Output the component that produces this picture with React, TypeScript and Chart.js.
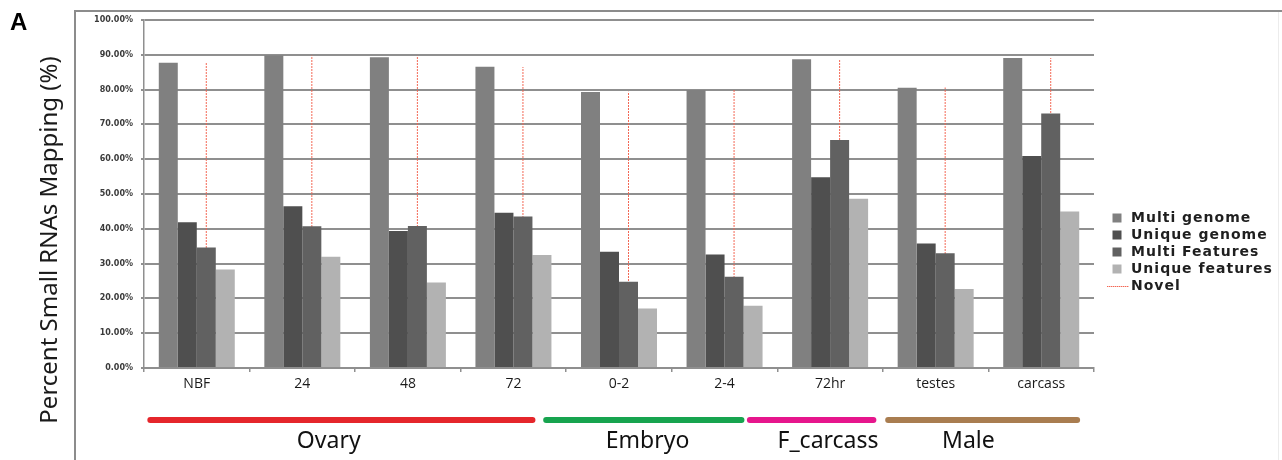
import React, { useEffect, useRef } from 'react';
import { Chart, registerables } from 'chart.js';

Chart.register(...registerables);

const categories = ['NBF', '24', '48', '72', '0-2', '2-4', '72hr', 'testes', 'carcass'];
const multiGenome = [87.7, 89.9, 89.3, 86.6, 79.3, 79.9, 88.7, 80.5, 89.1];
const uniqueGenome = [41.9, 46.5, 39.4, 44.6, 33.4, 32.6, 54.8, 35.8, 60.9];
const multiFeatures = [34.6, 40.7, 40.8, 43.5, 24.8, 26.2, 65.5, 33.0, 73.1];
const uniqueFeatures = [28.3, 32.0, 24.6, 32.5, 17.1, 17.9, 48.6, 22.7, 45.0];
const novel = [87.8, 89.8, 89.7, 86.5, 79.4, 80.1, 88.5, 80.6, 89.1];
const seriesNames = ['Multi genome', 'Unique genome', 'Multi Features', 'Unique features', 'Novel'];
const yTicks = [0, 10, 20, 30, 40, 50, 60, 70, 80, 90, 100];

// sample groups (spans given in category-index units)
const groupNames = ['Ovary', 'Embryo', 'F_carcass', 'Male'];
const groupStart = [-0.44, 3.31, 5.24, 6.55];
const groupEnd = [3.18, 5.16, 6.41, 8.34];
const groupLabelAt = [1.25, 4.27, 5.98, 7.31];
const groupColors = ['#e5262b', '#17a44f', '#e6168c', '#a97d50'];

const yTitle = 'Percent Small RNAs Mapping (%)';
const panelLetter = 'A';

const barColors = ['#808080', '#4f4f4f', '#616161', '#b2b2b2'];
const novelColor = 'rgba(242, 96, 76, 0.95)';
const LEGEND_WIDTH = 175;

const decorPlugin = {
  id: 'decor',
  beforeLayout(chart: any) {
    const lg = chart.legend;
    if (lg && !lg.__patched) {
      const origDraw = lg.draw.bind(lg);
      const origFit = lg.fit.bind(lg);
      lg.draw = (...args: any[]) => {
        const c = chart.ctx as any;
        c.letterSpacing = '1px';
        origDraw(...args);
        c.letterSpacing = '0px';
      };
      lg.fit = (...args: any[]) => {
        origFit(...args);
        lg.width = LEGEND_WIDTH;
      };
      lg.__patched = true;
    }
  },
  afterDraw(chart: any) {
    const ctx = chart.ctx as CanvasRenderingContext2D;
    const xs = chart.scales.x;
    ctx.save();
    // outer frame
    ctx.strokeStyle = '#8c8c8c';
    ctx.lineWidth = 2;
    ctx.beginPath();
    ctx.moveTo(75, 460);
    ctx.lineTo(75, 11);
    ctx.lineTo(1282, 11);
    ctx.stroke();
    ctx.strokeStyle = '#ececec';
    ctx.lineWidth = 1;
    ctx.beginPath();
    ctx.moveTo(1278.5, 12);
    ctx.lineTo(1278.5, 460);
    ctx.stroke();
    // panel letter
    ctx.fillStyle = '#000';
    ctx.font = 'bold 24px "Liberation Sans", Arial, sans-serif';
    ctx.textAlign = 'left';
    ctx.textBaseline = 'alphabetic';
    ctx.fillText(panelLetter, 10, 30);
    // y title
    ctx.save();
    ctx.translate(50, 240);
    ctx.rotate(-Math.PI / 2);
    ctx.textAlign = 'center';
    ctx.textBaseline = 'middle';
    ctx.fillStyle = '#1a1a1a';
    ctx.font = '24px "Noto Sans", sans-serif';
    ctx.fillText(yTitle, 0, 0);
    ctx.restore();
    // groups
    ctx.lineCap = 'round';
    ctx.lineWidth = 6;
    groupNames.forEach((name, i) => {
      const x0 = xs.getPixelForValue(groupStart[i]);
      const x1 = xs.getPixelForValue(groupEnd[i]);
      ctx.strokeStyle = groupColors[i];
      ctx.beginPath();
      ctx.moveTo(x0, 420);
      ctx.lineTo(x1, 420);
      ctx.stroke();
      ctx.fillStyle = '#111';
      ctx.font = '23px "Noto Sans", sans-serif';
      ctx.textAlign = 'center';
      ctx.textBaseline = 'alphabetic';
      ctx.fillText(name, xs.getPixelForValue(groupLabelAt[i]), 448);
    });
    ctx.restore();
  },
};

export default function App() {
  const ref = useRef<HTMLCanvasElement | null>(null);

  useEffect(() => {
    if (!ref.current) return;
    // dotted pattern for the Novel series
    const pc = document.createElement('canvas');
    pc.width = 1;
    pc.height = 3;
    const pctx = pc.getContext('2d')!;
    pctx.fillStyle = novelColor;
    pctx.fillRect(0, 0, 1, 2);
    const pattern = ref.current.getContext('2d')!.createPattern(pc, 'repeat');

    const legendLine = document.createElement('canvas');
    legendLine.width = 24;
    legendLine.height = 1;
    const lctx = legendLine.getContext('2d')!;
    lctx.fillStyle = novelColor;
    for (let i = 0; i < 24; i += 2) lctx.fillRect(i, 0, 1.4, 1);

    const seriesData = [multiGenome, uniqueGenome, multiFeatures, uniqueFeatures];
    const stacks = ['a', 'b', 'c', 'd'];
    const datasets: any[] = seriesData.map((d, i) => ({
      label: seriesNames[i],
      data: d,
      backgroundColor: barColors[i],
      borderWidth: 0,
      stack: stacks[i],
      yAxisID: 'y',
      categoryPercentage: 0.72,
      barPercentage: 1,
    }));
    datasets.push({
      label: seriesNames[4],
      data: novel,
      backgroundColor: pattern,
      borderWidth: 0,
      stack: 'c',
      yAxisID: 'y',
      categoryPercentage: 0.72,
      barPercentage: 1,
      maxBarThickness: 1,
    });

    const chart = new Chart(ref.current, {
      type: 'bar',
      data: { labels: categories, datasets },
      plugins: [decorPlugin],
      options: {
        responsive: false,
        animation: false,
        layout: { padding: { top: 20, left: 0, right: 0, bottom: 0 } },
        plugins: {
          tooltip: { enabled: false },
          legend: {
            position: 'right',
            title: { display: true, text: ' ', font: { size: 10 }, padding: 6 },
            labels: {
              usePointStyle: true,
              boxWidth: 14,
              boxHeight: 9,
              padding: 3,
              color: '#1f1f1f',
              font: { family: '"DejaVu Sans", sans-serif', size: 14, weight: 'bold' },
              generateLabels: (c: any) => {
                const items = (Chart.defaults.plugins.legend.labels as any).generateLabels(c);
                return items.map((it: any, i: number) => ({
                  ...it,
                  pointStyle: i === 4 ? legendLine : 'rect',
                  fillStyle: i === 4 ? novelColor : barColors[i],
                  strokeStyle: i === 4 ? novelColor : barColors[i],
                  lineWidth: 0,
                  fontColor: '#1f1f1f',
                }));
              },
            },
          },
        },
        scales: {
          x: {
            offset: true,
            grid: {
              offset: true,
              drawOnChartArea: false,
              drawTicks: true,
              tickLength: 4,
              color: '#8f8f8f',
              lineWidth: 1.5,
            },
            border: { display: true, color: '#8f8f8f', width: 2 },
            ticks: {
              color: '#1a1a1a',
              padding: 4,
              font: { family: '"Open Sans", "Noto Sans", sans-serif', size: 14 },
            },
            afterFit: (s: any) => {
              s.height = 92;
            },
          },
          y: {
            min: 0,
            max: 100,
            stacked: false,
            afterBuildTicks: (s: any) => {
              s.ticks = yTicks.map((v) => ({ value: v }));
            },
            grid: { color: '#8f8f8f', lineWidth: 2, tickLength: 3 },
            border: { display: true, color: '#8f8f8f', width: 1.5 },
            ticks: {
              color: '#3a3a3a',
              padding: 8,
              font: { family: '"DejaVu Sans", sans-serif', size: 8, weight: 'bold' },
              callback: (v: any) => Number(v).toFixed(2) + '%',
            },
            afterFit: (s: any) => {
              s.width = 144;
            },
          },
          yr: {
            type: 'linear',
            position: 'right',
            display: true,
            grid: { display: false },
            border: { display: false },
            ticks: { display: false },
            afterFit: (s: any) => {
              s.width = 13;
            },
          },
        },
      } as any,
    });
    return () => chart.destroy();
  }, []);

  return (
    <div style={{ position: 'absolute', left: 0, top: 0, width: 1282, height: 460, background: '#fff' }}>
      <canvas ref={ref} width={1282} height={460} style={{ display: 'block' }} />
    </div>
  );
}
